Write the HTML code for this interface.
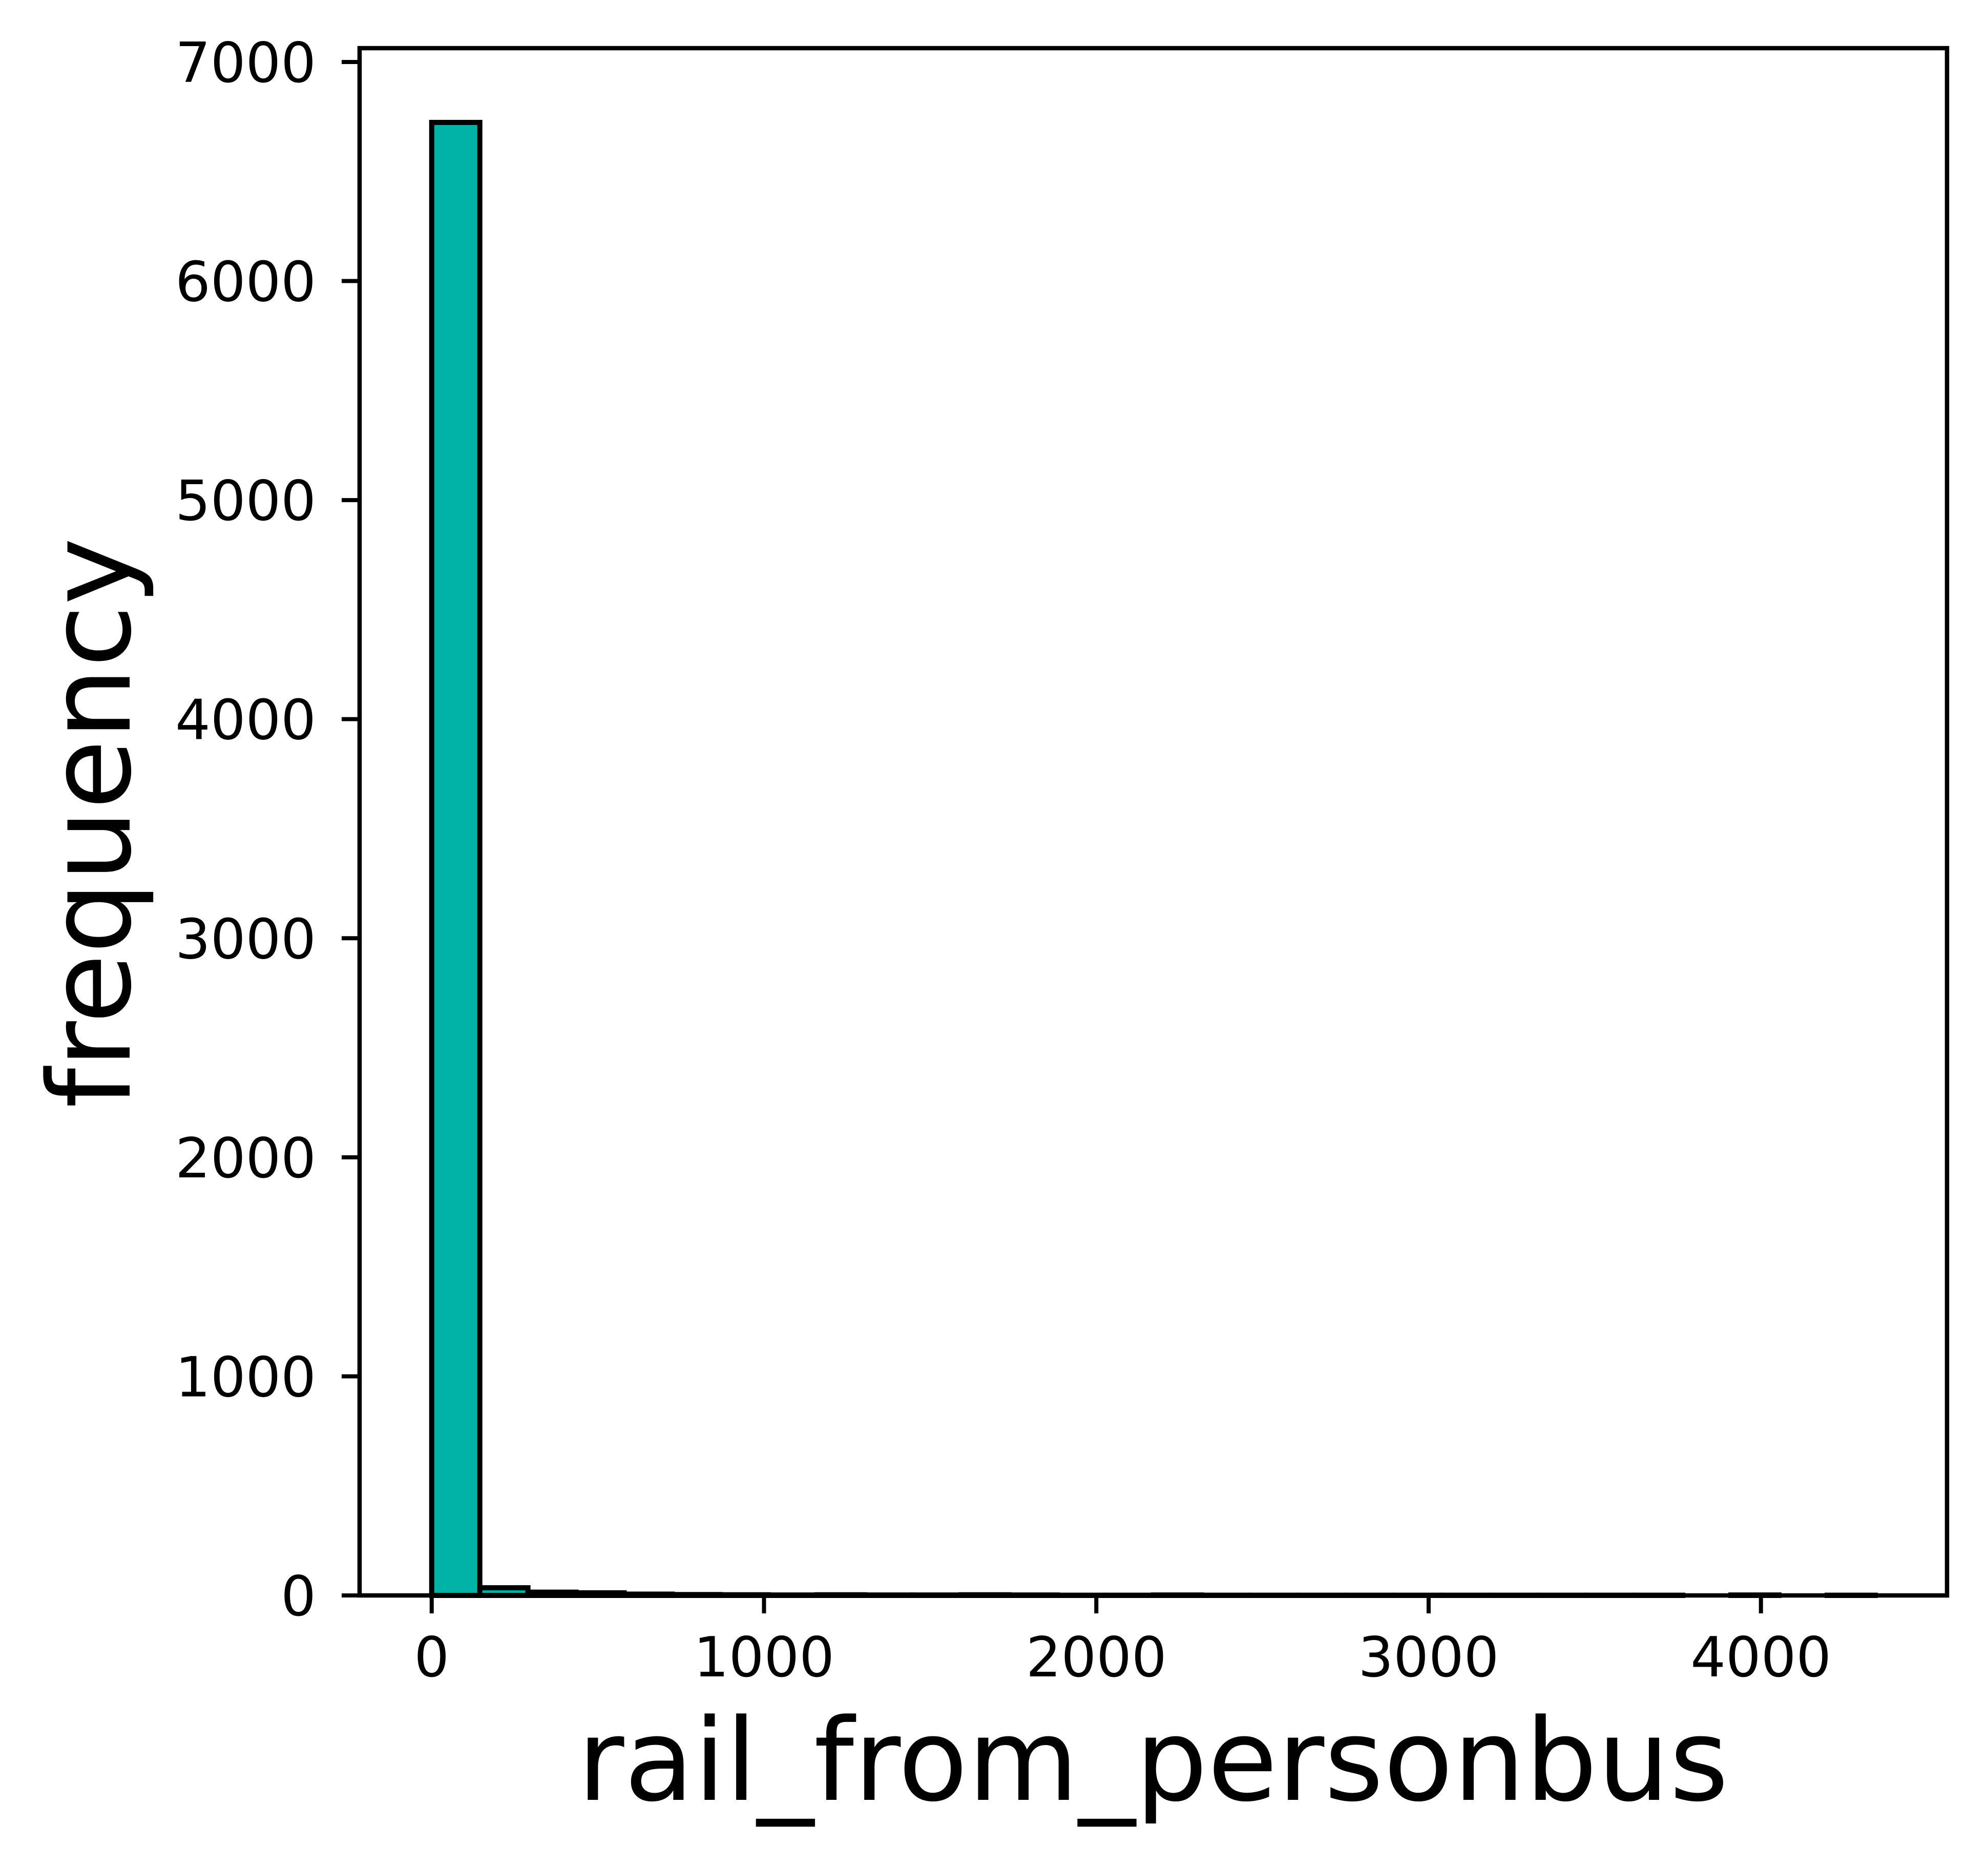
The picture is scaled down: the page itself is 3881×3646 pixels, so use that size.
<!DOCTYPE html>
<html><head><meta charset="utf-8"><style>
html,body{margin:0;padding:0;background:#fff;}
svg{display:block;}
text{font-family:"DejaVu Sans","Liberation Sans",sans-serif;fill:#000;}
</style></head><body>
<svg id="chart" width="3881" height="3646" viewBox="0 0 3881 3646" xmlns="http://www.w3.org/2000/svg">
<rect x="0" y="0" width="3881" height="3646" fill="#fff"/>
<g id="bars"></g>
<g id="xticks"></g>
<g id="yticks"></g>
<rect x="702" y="94" width="3099" height="3020" fill="none" stroke="#000" stroke-width="8.5"/>
<text x="2251" y="3513" font-size="222" text-anchor="middle">rail_from_personbus</text>
<text transform="translate(253,1606) rotate(-90)" font-size="222" text-anchor="middle">frequency</text>
</svg>
<script>
const binStart = 0;
const binWidth = 144.8;
const counts = [6724, 35, 15, 12, 6, 4, 3, 2, 3, 2, 2, 3, 2, 1, 1, 2, 1, 1, 1, 1, 1, 1, 1, 1, 1, 1, 0, 2, 0, 1];
const xTicks = [0, 1000, 2000, 3000, 4000];
const yTicks = [0, 1000, 2000, 3000, 4000, 5000, 6000, 7000];

const L = 702, R = 3801, T = 94, B = 3114;
const xMin = -217, xMax = 4560, yMin = 0, yMax = 7063;
const sx = v => L + (v - xMin) / (xMax - xMin) * (R - L);
const sy = v => B - (v - yMin) / (yMax - yMin) * (B - T);
const NS = "http://www.w3.org/2000/svg";

const bars = document.getElementById('bars');
counts.forEach((c, i) => {
  const x0 = sx(binStart + i * binWidth), x1 = sx(binStart + (i + 1) * binWidth);
  const r = document.createElementNS(NS, 'rect');
  r.setAttribute('x', x0); r.setAttribute('width', x1 - x0);
  r.setAttribute('y', sy(c)); r.setAttribute('height', B - sy(c));
  r.setAttribute('fill', '#00b3a6'); r.setAttribute('stroke', '#000'); r.setAttribute('stroke-width', '10');
  
  
  bars.appendChild(r);
});

const xg = document.getElementById('xticks');
xTicks.forEach(v => {
  const l = document.createElementNS(NS, 'line');
  l.setAttribute('x1', sx(v)); l.setAttribute('x2', sx(v));
  l.setAttribute('y1', B); l.setAttribute('y2', B + 35);
  l.setAttribute('stroke', '#000'); l.setAttribute('stroke-width', '8');
  
  
  xg.appendChild(l);
  const t = document.createElementNS(NS, 'text');
  t.setAttribute('x', sx(v)); t.setAttribute('y', 3272);
  t.setAttribute('font-size', '108'); t.setAttribute('text-anchor', 'middle');
  t.textContent = v;
  
  
  xg.appendChild(t);
});

const yg = document.getElementById('yticks');
yTicks.forEach(v => {
  const l = document.createElementNS(NS, 'line');
  l.setAttribute('x1', L - 35); l.setAttribute('x2', L);
  l.setAttribute('y1', sy(v)); l.setAttribute('y2', sy(v));
  l.setAttribute('stroke', '#000'); l.setAttribute('stroke-width', '8');
  
  
  yg.appendChild(l);
  const t = document.createElementNS(NS, 'text');
  t.setAttribute('x', 617); t.setAttribute('y', sy(v) + 39);
  t.setAttribute('font-size', '108'); t.setAttribute('text-anchor', 'end');
  t.textContent = v;
  
  
  yg.appendChild(t);
});
</script>
</body></html>
